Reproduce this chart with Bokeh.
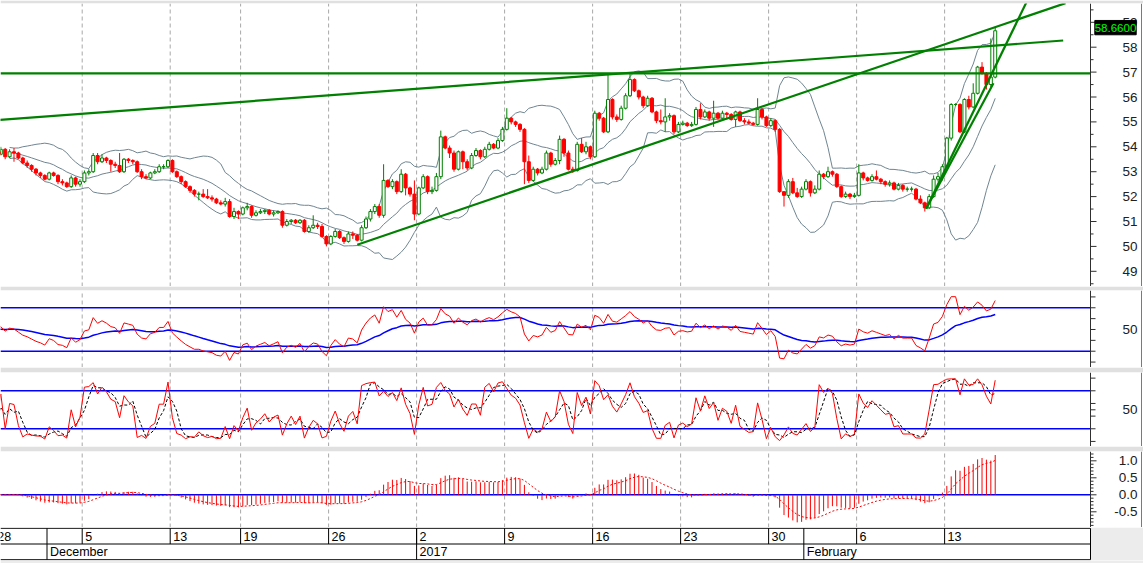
from bokeh.plotting import figure
from bokeh.models import Range1d, ColumnDataSource
from bokeh.layouts import column
from bokeh.embed import file_html
from bokeh.resources import INLINE
from bokeh.core.properties import value
import numpy as np
import pandas as pd

# ---------------- data ----------------
BARS_PER_DAY = 4
week_labels = ["28", "5", "13", "19", "26", "2", "9", "16", "23", "30", "6", "13"]
week_start_day = [0, 5, 10, 14, 19, 24, 29, 34, 39, 44, 49, 54]
month_labels = ["December", "2017", "February"]
month_start_day = [3, 24, 46]

first_open = 53.8
close = [
    53.7, 53.9, 53.6, 53.8,   53.75, 53.55, 53.35, 53.25,   53.1, 52.95, 52.85, 52.7,
    52.95, 52.85, 52.6, 52.55,   52.4, 52.75, 52.5, 52.6,   52.95, 53.0, 53.65, 53.4,
    53.55, 53.45, 53.3, 53.25,   53.0, 53.5, 53.45, 53.4,   53.0, 52.8, 52.75, 52.95,
    53.0, 53.2, 53.2, 53.45,   53.0, 52.8, 52.6, 52.4,   52.25, 52.1, 52.1, 52.0,
    51.95, 51.9, 51.75, 51.7,   51.8, 51.2, 51.4, 51.3,   51.55, 51.6, 51.25, 51.35,
    51.4, 51.45, 51.3, 51.35,   51.4, 50.85, 51.0, 51.05,   50.95, 51.05, 50.6, 50.75,
    50.85, 50.8, 50.4, 50.1,   50.4, 50.6, 50.35, 50.2,   50.5, 50.45, 50.25, 50.75,
    51.1, 51.4, 51.6, 51.25,   52.65, 52.4, 52.6, 52.2,   52.9, 52.35, 52.1, 51.3,
    52.35, 52.8, 52.2, 52.25,   52.8, 54.4, 53.95, 53.75,   53.1, 53.8, 53.4, 53.15,
    53.65, 53.85, 53.6, 53.9,   54.1, 53.95, 54.25, 54.7,   55.15, 55.0, 54.9, 54.7,
    53.4, 52.65, 53.1, 52.95,   53.1, 53.75, 53.3, 53.45,   54.3, 53.75, 53.1, 53.05,
    54.1, 53.8, 54.0, 53.6,   55.35, 55.15, 54.6, 55.9,   55.2, 55.1, 55.55, 56.05,
    56.7, 56.25, 56.0, 55.65,   55.95, 55.4, 55.05, 55.0,   55.2, 55.25, 54.6, 54.9,
    54.95, 54.85, 54.9, 55.5,   55.2, 55.4, 55.15, 55.35,   55.15, 55.35, 55.3, 55.1,
    55.4, 55.05, 55.0, 54.95,   54.9, 55.5, 55.2, 54.85,   55.05, 54.7, 52.2, 52.05,
    52.6, 52.15, 52.0, 52.3,   52.6, 52.15, 52.3, 52.9,   52.8, 53.0, 52.9, 52.4,
    52.0, 52.1, 52.0, 52.05,   52.95, 52.75, 52.65, 52.8,   52.7, 52.6, 52.5, 52.55,
    52.3, 52.45, 52.3, 52.3,   52.3, 51.9, 51.75, 51.55,   52.0, 52.7, 52.8, 53.2,
    54.35, 55.7, 55.7, 54.6,   55.9, 55.6, 56.15, 57.2,   56.95, 56.5, 56.8, 58.66,
]
high = [
    53.9, 54.0, 53.95, 53.9,   53.95, 53.8, 53.6, 53.45,   53.3, 53.15, 53.0, 52.9,
    53.0, 53.0, 52.9, 52.7,   52.6, 52.85, 52.8, 52.7,   53.05, 53.1, 53.75, 53.75,
    53.7, 53.6, 53.5, 53.4,   53.75, 53.55, 53.55, 53.5,   53.45, 53.1, 52.9, 53.0,
    53.1, 53.3, 53.3, 53.5,   53.5, 53.05, 52.85, 52.65,   52.45, 52.3, 52.2, 52.3,
    52.3, 52.05, 51.95, 51.85,   51.95, 51.9, 51.55, 51.45,   51.6, 51.75, 51.65, 51.45,
    51.5, 51.5, 51.5, 51.45,   51.45, 51.45, 51.1, 51.1,   51.1, 51.1, 51.1, 50.85,
    51.25, 50.95, 50.9, 50.45,   50.45, 50.7, 50.65, 50.4,   50.6, 50.6, 50.5, 50.85,
    51.2, 51.5, 51.7, 51.7,   53.3, 52.7, 52.7, 52.65,   53.1, 52.95, 52.4, 52.65,
    52.4, 52.9, 52.85, 52.4,   52.95, 54.65, 54.45, 54.05,   53.85, 53.85, 53.85, 53.5,
    53.75, 53.95, 53.9, 54.0,   54.2, 54.15, 54.35, 54.8,   55.55, 55.2, 55.05, 54.95,
    54.75, 53.65, 53.2, 53.15,   53.2, 53.85, 53.8, 53.55,   54.45, 54.35, 53.85, 53.2,
    54.2, 54.35, 54.2, 54.05,   55.45, 55.4, 55.2, 56.95,   55.95, 55.3, 55.65, 56.15,
    56.95, 56.75, 56.3, 56.05,   56.05, 56.0, 55.45, 55.5,   55.95, 55.35, 55.3, 55.0,
    55.05, 55.0, 55.0, 55.6,   55.75, 55.5, 55.45, 55.85,   55.4, 55.45, 55.4, 55.35,
    55.45, 55.45, 55.15, 55.1,   55.0, 55.95, 55.55, 55.25,   55.15, 55.1, 54.75, 52.2,
    52.7, 52.75, 52.35, 52.4,   52.7, 52.65, 52.45, 53.05,   52.95, 53.2, 53.05, 52.95,
    52.45, 52.2, 52.15, 52.15,   53.3, 53.0, 52.8, 52.9,   53.05, 52.75, 52.65, 52.65,
    52.6, 52.55, 52.5, 52.4,   52.4, 52.35, 52.05, 51.8,   52.1, 52.85, 52.95, 53.3,
    54.4, 55.75, 55.75, 55.75,   55.95, 56.05, 56.55, 57.25,   57.4, 57.0, 58.35, 58.8,
]
low = [
    53.6, 53.65, 53.5, 53.55,   53.4, 53.5, 53.3, 53.15,   53.0, 52.85, 52.75, 52.65,
    52.65, 52.8, 52.5, 52.45,   52.35, 52.35, 52.4, 52.4,   52.55, 52.85, 52.95, 53.3,
    53.35, 53.35, 53.0, 53.15,   52.95, 52.95, 53.35, 53.3,   52.95, 52.7, 52.7, 52.7,
    52.9, 52.95, 53.1, 53.15,   52.95, 52.75, 52.5, 52.35,   52.15, 52.0, 51.85, 51.95,
    51.9, 51.8, 51.7, 51.65,   51.6, 51.15, 51.1, 51.1,   51.25, 51.45, 51.15, 51.2,
    51.3, 51.3, 51.25, 51.2,   51.3, 50.75, 50.8, 50.9,   50.9, 50.9, 50.55, 50.55,
    50.7, 50.7, 50.35, 50.0,   50.05, 50.35, 50.3, 50.1,   50.15, 50.3, 50.2, 50.2,
    50.7, 51.0, 51.3, 51.15,   51.15, 52.35, 52.3, 52.1,   52.15, 52.05, 52.0, 51.05,
    51.25, 52.3, 52.1, 52.1,   52.2, 52.7, 53.9, 53.55,   53.0, 53.05, 53.1, 53.05,
    53.1, 53.6, 53.5, 53.55,   53.85, 53.9, 53.9, 54.2,   54.65, 54.9, 54.8, 54.6,
    52.5, 52.55, 52.6, 52.85,   52.9, 53.05, 53.2, 53.25,   53.3, 53.6, 53.05, 52.95,
    53.0, 53.75, 53.7, 53.5,   53.55, 55.05, 54.55, 54.55,   55.1, 55.0, 55.05, 55.5,
    56.0, 56.2, 55.9, 55.55,   55.6, 55.35, 54.95, 54.9,   54.6, 55.05, 54.5, 54.55,
    54.85, 54.8, 54.8, 54.85,   55.1, 55.15, 55.05, 54.8,   55.1, 55.1, 55.15, 55.05,
    54.8, 55.0, 54.9, 54.9,   54.85, 54.85, 55.1, 54.8,   54.8, 54.6, 52.15, 51.6,
    51.95, 52.1, 51.95, 51.95,   52.25, 52.0, 52.1, 52.25,   52.7, 52.75, 52.8, 52.35,
    51.95, 51.95, 51.9, 51.95,   52.0, 52.65, 52.6, 52.6,   52.65, 52.5, 52.4, 52.4,
    52.25, 52.25, 52.2, 52.2,   52.2, 51.85, 51.7, 51.4,   51.5, 51.95, 52.6, 52.65,
    53.15, 54.25, 55.65, 54.55,   54.55, 55.5, 55.55, 56.1,   56.9, 56.3, 56.4, 56.75,
]

# trend lines drawn on the chart: (bar index, price) end points
trend_x0 = [-3.0, 82.0, 211.3, 211.3]
trend_y0 = [55.03, 50.07, 51.51, 51.51]
trend_x1 = [242.45, 242.98, 234.3, 226.6]
trend_y1 = [58.27, 59.77, 59.88, 56.55]
resistance_level = 56.95

# axis ticks
price_major = [49, 50, 51, 52, 53, 54, 55, 56, 57, 58, 59]
price_minor = [48.5, 49.5, 50.5, 51.5, 52.5, 53.5, 54.5, 55.5, 56.5, 57.5, 58.5, 59.5]
rsi_ticks = [20, 30, 40, 50, 60, 70, 80]
rsi_levels = [70, 30]
sto_ticks = [0, 20, 40, 50, 60, 80, 100]
sto_levels = [80, 20]
macd_major = [-0.5, 0.0, 0.5, 1.0]
macd_minor = [-0.9, -0.8, -0.7, -0.6, -0.4, -0.3, -0.2, -0.1, 0.1, 0.2, 0.3, 0.4,
              0.6, 0.7, 0.8, 0.9, 1.1, 1.2]

# indicator settings
BB_N, BB_K = 13, 2.0
RSI_N, RSI_MA_SPAN = 12, 20
STO_N, STO_D = 9, 3
MACD_F, MACD_S, MACD_SIG = 8, 17, 6

# ---------------- computations ----------------
c = pd.Series(close, dtype=float)
h = pd.Series(high, dtype=float)
lo = pd.Series(low, dtype=float)
o = pd.Series([first_open] + close[:-1], dtype=float)
n = len(c)
x = np.arange(n)

mid = c.rolling(BB_N, min_periods=4).mean()
sd = c.rolling(BB_N, min_periods=4).std(ddof=0)
upper = mid + BB_K * sd
lower = mid - BB_K * sd

# Wilder RSI, averages seeded neutrally from the mean absolute change of the first bars
diffs = np.diff(np.asarray(close, dtype=float))
seed = np.abs(diffs[:RSI_N]).mean()
ag_v = al_v = seed
rsi_vals = [50.0]
for dv in diffs:
    ag_v = (ag_v * (RSI_N - 1) + max(dv, 0.0)) / RSI_N
    al_v = (al_v * (RSI_N - 1) + max(-dv, 0.0)) / RSI_N
    rsi_vals.append(100 - 100 / (1 + ag_v / al_v) if al_v > 0 else 100.0)
rsi = pd.Series(rsi_vals)
rsi_ma = rsi.ewm(span=RSI_MA_SPAN, adjust=False).mean()

hh = h.rolling(STO_N, min_periods=1).max()
ll = lo.rolling(STO_N, min_periods=1).min()
sto_k = 100 * (c - ll) / (hh - ll)
sto_d = sto_k.rolling(STO_D, min_periods=1).mean()

macd = c.ewm(span=MACD_F, adjust=False).mean() - c.ewm(span=MACD_S, adjust=False).mean()
signal = macd.ewm(span=MACD_SIG, adjust=False).mean()

# ---------------- styling / layout ----------------
GREEN = "#008000"
RED = "#ff0000"
BLUE = "#0000ff"
BAND = "#6f8591"
GRID = "#a8a8a8"
SEP = "#e0e0e0"
AX = "#303030"
FONT = "Liberation Sans"

W = 1143
AXIS_PX = 1090           # screen x of the value axis line
EDGE_PX = 1141           # screen x of the right border line
xr = Range1d(0.932, 260.7)
PPB = W / (xr.end - xr.start)          # pixels per bar
XA = xr.start + AXIS_PX / PPB          # bar coordinate of the axis line
XE = xr.start + EDGE_PX / PPB
grid_locs = [s * BARS_PER_DAY - 0.5 for s in week_start_day]


def panel(hgt, y0, y1, top_border):
    f = figure(frame_width=W, frame_height=hgt, x_range=xr, y_range=Range1d(y0, y1),
               output_backend="svg", toolbar_location=None,
               x_axis_location=None, y_axis_location=None,
               min_border_left=0, min_border_right=0, min_border_top=top_border,
               min_border_bottom=0, background_fill_color="white", border_fill_color=SEP,
               outline_line_color=None)
    f.grid.visible = False
    f.segment(x0=grid_locs, y0=[y0] * len(grid_locs), x1=grid_locs, y1=[y1] * len(grid_locs),
              color=GRID, line_dash="4 3", line_width=1)
    f.segment(x0=[XE], y0=[y0], x1=[XE], y1=[y1], color="#7a7a7a", line_width=1)
    return f


def hlines(f, levels, color, width):
    f.segment(x0=[xr.start] * len(levels), y0=levels, x1=[XA] * len(levels), y1=levels,
              color=color, line_width=width)


def value_axis(f, y0, y1, major, minor, labels, label_vals, tick=6, mtick=3):
    f.segment(x0=[XA], y0=[y0], x1=[XA], y1=[y1], color=AX, line_width=1)
    f.segment(x0=[XA] * len(major), y0=major, x1=[XA + tick / PPB] * len(major), y1=major,
              color=AX, line_width=1)
    if minor:
        f.segment(x0=[XA] * len(minor), y0=minor, x1=[XA + mtick / PPB] * len(minor), y1=minor,
                  color=AX, line_width=1)
    f.text(x=[XA] * len(labels), y=label_vals, text=labels, x_offset=47, text_align="right",
           text_baseline="middle", text_font=value(FONT), text_font_size="13.5px",
           text_color="#202020")


# ---- price panel ----
PY0, PY1 = 48.39, 59.755
PH = 283
p = panel(PH, PY0, PY1, 3)
up = (c >= o).values
top_b = np.maximum(o, c)
bot_b = np.minimum(o, c)
src = ColumnDataSource(dict(x=x, h=h, l=lo, col=np.where(up, GREEN, RED)))
p.line(x, upper, color=BAND, line_width=1)
p.line(x, mid, color=BAND, line_width=1)
p.line(x, lower, color=BAND, line_width=1)
p.segment(x0="x", y0="l", x1="x", y1="h", color="col", line_width=1, source=src)
su = ColumnDataSource(dict(x=x[up], top=top_b[up], bot=bot_b[up]))
sdn = ColumnDataSource(dict(x=x[~up], top=top_b[~up], bot=bot_b[~up]))
p.vbar(x="x", top="top", bottom="bot", width=0.68, fill_color="white", line_color=GREEN,
       line_width=1, source=su)
p.vbar(x="x", top="top", bottom="bot", width=0.68, fill_color=RED, line_color=RED,
       line_width=1, source=sdn)
hlines(p, [resistance_level], GREEN, 2.2)
p.segment(x0=trend_x0, y0=trend_y0, x1=trend_x1, y1=trend_y1, color=GREEN, line_width=2.2)
value_axis(p, PY0, PY1, price_major, price_minor, [str(v) for v in price_major], price_major)
# last-price box on the axis
ppp = PH / (PY1 - PY0)          # pixels per price unit
last = close[-1]
p.quad(left=[XA + 4.3 / PPB], right=[XA + 45.7 / PPB],
       top=[last + 10.3 / ppp], bottom=[last - 4.0 / ppp],
       fill_color="black", line_color="black")
p.text(x=[XA], y=[last], text=["%.4f" % last], x_offset=25, y_offset=-3, text_align="center",
       text_baseline="middle", text_font=value(FONT), text_font_size="11.5px",
       text_color="#00ff00")

# ---- RSI panel ----
pr = panel(77, 15.0, 85.9, 4)
hlines(pr, rsi_levels, BLUE, 1.5)
pr.line(x, rsi_ma, color=BLUE, line_width=1.5)
pr.line(x, rsi, color=RED, line_width=1)
value_axis(pr, 15.0, 85.9, rsi_ticks, None, ["50"], [50], tick=5)

# ---- Stochastic panel ----
ps = panel(74, -8.0, 108.9, 5)
hlines(ps, sto_levels, BLUE, 1.5)
ps.line(x, sto_d, color="black", line_width=1, line_dash="3 2")
ps.line(x, sto_k, color=RED, line_width=1)
value_axis(ps, -8.0, 108.9, sto_ticks, None, ["50"], [50], tick=5)

# ---- MACD panel ----
pm = panel(76, -0.962, 1.274, 5)
hlines(pm, [0.0], BLUE, 1.5)
pm.segment(x0=x, y0=np.zeros(n), x1=x, y1=macd, color=RED, line_width=1)
pm.line(x, signal, color=RED, line_width=1, line_dash="2 2")
value_axis(pm, -0.962, 1.274, macd_major, macd_minor, ["%.1f" % v for v in macd_major],
           macd_major)

# ---- date axis ----
pdx = figure(frame_width=W, frame_height=33, x_range=xr, y_range=Range1d(-0.05, 2.05),
             output_backend="svg", toolbar_location=None, x_axis_location=None,
             y_axis_location=None, min_border_left=0, min_border_right=0,
             min_border_top=0, min_border_bottom=3, background_fill_color="white",
             border_fill_color="#ececec", outline_line_color=None)
pdx.grid.visible = False
pdx.quad(left=[XA], right=[xr.end], bottom=[-0.05], top=[2.05], fill_color="#ececec",
         line_color=None)
pdx.segment(x0=[xr.start] * 3, y0=[0, 1, 2], x1=[XA] * 3, y1=[0, 1, 2], color="black",
            line_width=1)
pdx.segment(x0=[XA], y0=[0], x1=[XA], y1=[2], color="black", line_width=1)
wx = [s * BARS_PER_DAY - 0.5 for s in week_start_day]
mx = [s * BARS_PER_DAY - 0.5 for s in month_start_day]
pdx.segment(x0=wx, y0=[1] * len(wx), x1=wx, y1=[2] * len(wx), color="black", line_width=1)
pdx.segment(x0=mx, y0=[0] * len(mx), x1=mx, y1=[2] * len(mx), color="black", line_width=1)
pdx.text(x=wx, y=[1.5] * len(wx), text=week_labels, x_offset=3, text_baseline="middle",
         text_align="left", text_font=value(FONT), text_font_size="12.5px", text_color="black")
pdx.text(x=mx, y=[0.5] * len(mx), text=month_labels, x_offset=3, text_baseline="middle",
         text_align="left", text_font=value(FONT), text_font_size="12.5px", text_color="black")

layout = column(p, pr, ps, pm, pdx, spacing=0)
open("out.html", "w").write(file_html(layout, INLINE))
